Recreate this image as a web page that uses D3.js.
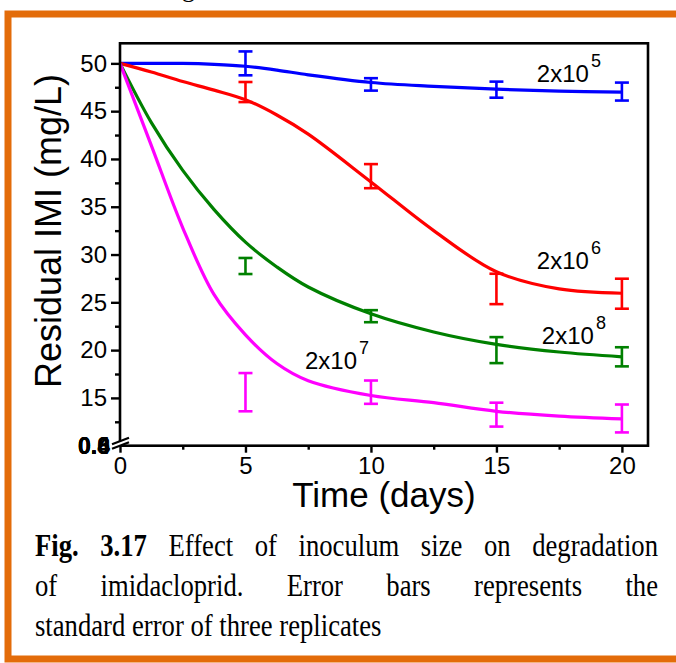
<!DOCTYPE html>
<html><head><meta charset="utf-8">
<script src="https://cdn.jsdelivr.net/npm/d3@7"></script>
<style>
html,body{margin:0;padding:0;background:#fff;}
svg{display:block;}
</style></head>
<body>
<svg id="chart" width="676" height="663"></svg>
<script>
// ---------- DATA ----------
const sampleDays = [5, 10, 15, 20];
const seriesNames = ["2x10^5", "2x10^6", "2x10^8", "2x10^7"];
const seriesColors = ["#0000ff", "#ff0000", "#008000", "#ff00ff"];

// measured means and standard errors
const meanBlue = [50.0, 47.8, 47.25, 47.05];
const errBlue = [1.25, 0.65, 0.84, 0.94];
const meanRed = [47.0, 38.2, 26.4, 25.9];
const errRed = [1.05, 1.26, 1.59, 1.57];
const meanGreen = [28.8, 23.55, 20.0, 19.3];
const errGreen = [0.84, 0.63, 1.36, 1.0];
const meanMagenta = [15.6, 15.6, 13.25, 12.85];
const errMagenta = [2.0, 1.22, 1.25, 1.46];

// fitted curves
const fitDays = [0, 1.25, 2.5, 3.75, 5, 6.25, 7.5, 10, 12.5, 15, 17.5, 20];
const fitBlue = [50, 50.0, 50.0, 49.9, 49.7, 49.3, 48.8, 48.0, 47.6, 47.3, 47.1, 47.0];
const fitRed = [50, 49.1, 48.1, 47.2, 46.2, 44.6, 42.6, 37.6, 32.5, 28.2, 26.4, 25.95];
const fitGreen = [50, 43.8, 38.8, 34.7, 31.3, 28.7, 26.6, 23.8, 21.9, 20.6, 19.8, 19.3];
const fitMagenta = [50, 41.4, 32.8, 25.8, 21.6, 18.6, 16.8, 15.25, 14.5, 13.6, 13.1, 12.8];

const xTicks = [0, 5, 10, 15, 20];
const xMinorTicks = [2.5, 7.5, 12.5, 17.5];
const yTicks = [15, 20, 25, 30, 35, 40, 45, 50];
const yMinorTicks = [12.5, 17.5, 22.5, 27.5, 32.5, 37.5, 42.5, 47.5];
const breakLabels = ["0.4", "0.6", "0.0", "0.8"];

const labelBase = ["2x10", "2x10", "2x10", "2x10"];
const labelExp = ["5", "6", "8", "7"];
const labelDay = [16.61, 16.61, 16.81, 7.37];
const labelVal = [48.08, 28.45, 20.64, 17.99];

const xTitle = "Time (days)";
const yTitle = "Residual IMI (mg/L)";
const captionLines = [
  [{t: "Fig. 3.17", b: true}, {t: "Effect of inoculum size on degradation"}],
  [{t: "of imidacloprid. Error bars represents the"}],
  [{t: "standard error of three replicates"}]
];

// ---------- DRAW ----------
(function () {
const svg = d3.select("#chart");

svg.append("rect").attr("x", 8).attr("y", 14).attr("width", 700).attr("height", 645)
  .attr("fill", "#fff").attr("stroke", "#e36c0a").attr("stroke-width", 7);
svg.append("text").attr("x", 182).attr("y", -3).attr("font-family", "Liberation Serif")
  .attr("font-size", 26).text("g");

const pL = 120, pR = 648, pT = 43.3, pB = 445.7;
const x = d3.scaleLinear().domain([0, 21.04]).range([pL, pR]);
const y = d3.scaleLinear().domain([10, 52.1]).range([pB, pT]);

const font = "Arial, 'Liberation Sans', sans-serif";

const fits = [fitBlue, fitRed, fitGreen, fitMagenta];
const means = [meanBlue, meanRed, meanGreen, meanMagenta];
const errs = [errBlue, errRed, errGreen, errMagenta];
const line = d3.line().x(d => x(d[0])).y(d => y(d[1])).curve(d3.curveCatmullRom.alpha(0.5));

const plot = svg.append("g");
fits.forEach((f, i) => {
  plot.append("path")
    .attr("d", line(fitDays.map((d, k) => [d, f[k]])))
    .attr("fill", "none").attr("stroke", seriesColors[i]).attr("stroke-width", 3.2);
});
means.forEach((m, i) => {
  const g = plot.append("g").attr("stroke", seriesColors[i]).attr("stroke-width", 2.6);
  sampleDays.forEach((d, k) => {
    const cx = x(d), y1 = y(m[k] + errs[i][k]), y2 = y(m[k] - errs[i][k]);
    g.append("line").attr("x1", cx).attr("x2", cx).attr("y1", y1).attr("y2", y2);
    g.append("line").attr("x1", cx - 7).attr("x2", cx + 7).attr("y1", y1).attr("y2", y1);
    g.append("line").attr("x1", cx - 7).attr("x2", cx + 7).attr("y1", y2).attr("y2", y2);
  });
});

svg.append("rect").attr("x", pL).attr("y", pT).attr("width", pR - pL).attr("height", pB - pT)
  .attr("fill", "none").attr("stroke", "#000").attr("stroke-width", 2.6);

const xAxis = d3.axisBottom(x).tickValues(xTicks).tickSize(7).tickPadding(4).tickFormat(d3.format("d"));
const gx = svg.append("g").attr("transform", `translate(0,${pB})`).call(xAxis);
gx.select(".domain").remove();
gx.selectAll(".tick line").attr("stroke-width", 2.4);
gx.selectAll("text").attr("font-family", font).attr("font-size", 24).attr("fill", "#000");
const gxm = svg.append("g").attr("transform", `translate(0,${pB})`)
  .call(d3.axisBottom(x).tickValues(xMinorTicks).tickSize(4).tickFormat(""));
gxm.select(".domain").remove();
gxm.selectAll(".tick line").attr("stroke-width", 2.4);

const yAxis = d3.axisLeft(y).tickValues(yTicks).tickSize(9).tickPadding(4).tickFormat(d3.format("d"));
const gy = svg.append("g").attr("transform", `translate(${pL},0)`).call(yAxis);
gy.select(".domain").remove();
gy.selectAll(".tick line").attr("stroke-width", 2.4);
gy.selectAll("text").attr("font-family", font).attr("font-size", 24).attr("fill", "#000");
const gym = svg.append("g").attr("transform", `translate(${pL},0)`)
  .call(d3.axisLeft(y).tickValues(yMinorTicks).tickSize(5).tickFormat(""));
gym.select(".domain").remove();
gym.selectAll(".tick line").attr("stroke-width", 2.4);

const brk = svg.append("g");
brk.append("polygon").attr("points", `${pL-8},${pB-1} ${pL+8},${pB-7} ${pL+8},${pB-3} ${pL-8},${pB+3}`)
  .attr("fill", "#fff");
brk.append("line").attr("x1", pL - 8).attr("y1", pB - 1.5).attr("x2", pL + 9).attr("y2", pB - 8)
  .attr("stroke", "#000").attr("stroke-width", 2.2);
brk.append("line").attr("x1", pL - 8).attr("y1", pB + 3).attr("x2", pL + 9).attr("y2", pB - 3.5)
  .attr("stroke", "#000").attr("stroke-width", 2.2);
breakLabels.forEach(l => {
  svg.append("text").attr("x", pL - 10).attr("y", pB + 8).attr("text-anchor", "end")
    .attr("font-family", font).attr("font-size", 23).attr("font-weight", "bold").text(l);
});

svg.append("text").attr("x", 384).attr("y", 507).attr("text-anchor", "middle")
  .attr("font-family", font).attr("font-size", 35).text(xTitle);
svg.append("text").attr("transform", "translate(61,231) rotate(-90)").attr("text-anchor", "middle")
  .attr("font-family", font).attr("font-size", 36).text(yTitle);

labelBase.forEach((b, i) => {
  const t = svg.append("text").attr("x", x(labelDay[i])).attr("y", y(labelVal[i]))
    .attr("font-family", font).attr("font-size", 24).attr("fill", "#000");
  t.append("tspan").text(b);
  t.append("tspan").attr("dx", 2).attr("dy", -15).attr("font-size", 18).text(labelExp[i]);
});

const capX0 = 35, capX1 = 658, capY0 = 556, capLH = 40, capFS = 31, capSX = 0.86;
captionLines.forEach((ln, li) => {
  const words = [];
  ln.forEach(seg => seg.t.split(" ").forEach(w => words.push({w, b: !!seg.b})));
  const g = svg.append("g");
  const nodes = words.map(o => g.append("text")
    .attr("font-family", "'Liberation Serif', 'Times New Roman', serif").attr("font-size", capFS)
    .attr("font-weight", o.b ? "bold" : "normal").text(o.w));
  const widths = nodes.map(n => n.node().getComputedTextLength() * capSX);
  const total = d3.sum(widths);
  const justify = li < captionLines.length - 1;
  const gap = justify ? (capX1 - capX0 - total) / (words.length - 1) : capFS * 0.25 * capSX;
  let cx = capX0;
  const yy = capY0 + li * capLH;
  nodes.forEach((n, k) => {
    n.attr("transform", `translate(${cx},${yy}) scale(${capSX},1)`);
    cx += widths[k] + gap;
  });
});
})();
</script>
</body></html>
